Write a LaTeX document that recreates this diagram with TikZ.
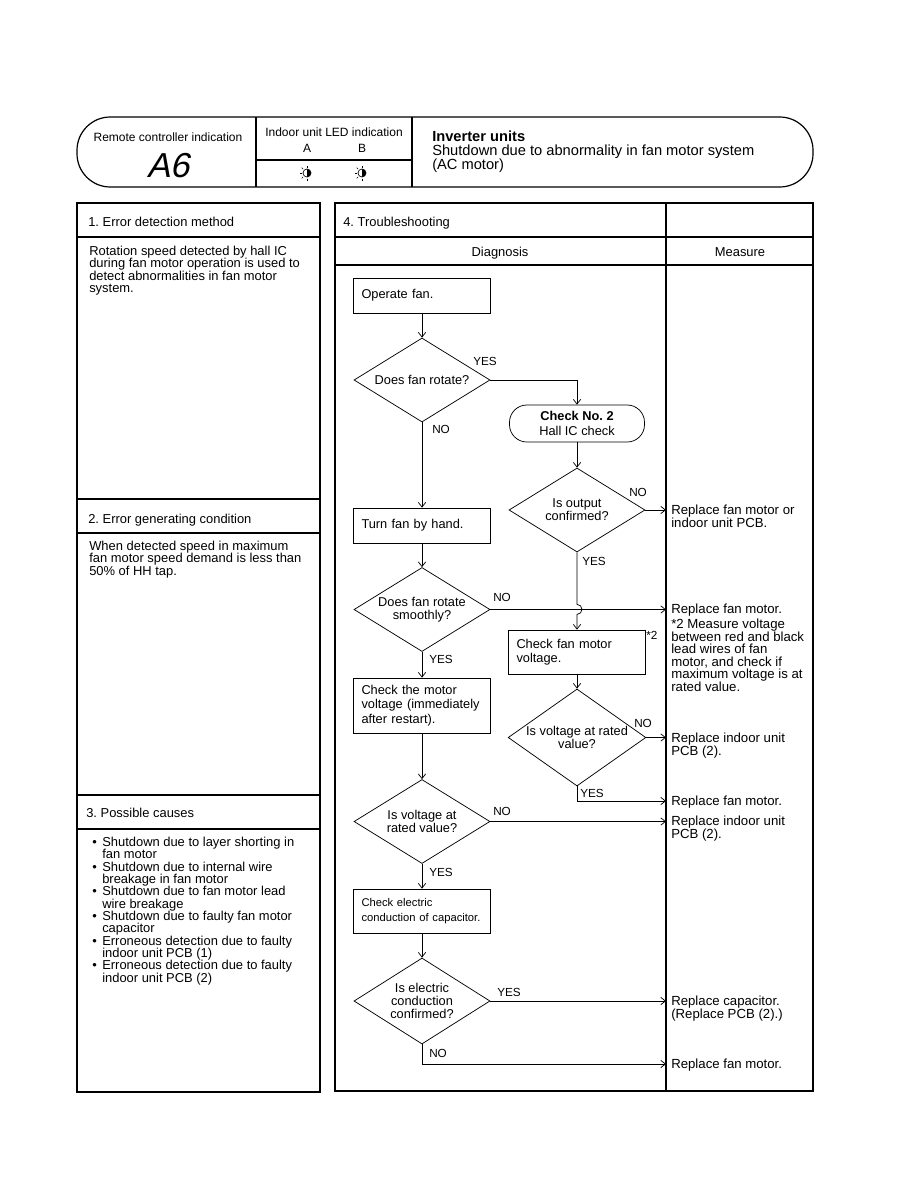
\documentclass[tikz,border=0pt]{standalone}
\usepackage{fontspec}
\setmainfont{Liberation Sans}
\newfontfamily\segfont[FakeSlant=0.22]{Liberation Sans}
\usetikzlibrary{arrows.meta,shapes.geometric}
\newcommand\bulmark{\makebox[7.5pt][l]{\textbullet}}
\newcommand\bulgap{\hspace*{7.5pt}}
\frenchspacing

\begin{document}
\begin{tikzpicture}[x=0.75pt,y=-0.75pt,
  frame/.style={line width=0.9pt},
  flow/.style={line width=0.55pt},
  arr/.style={flow,-{Straight Barb[length=3.5pt,width=5.5pt]}},
  box/.style={draw,flow,rectangle,inner xsep=6pt,inner ysep=0pt,text width=90.75pt,align=left,minimum height=26.25pt,font=\fontsize{9.6}{10.9}\selectfont},
  ask/.style={draw,flow,diamond,inner sep=0pt,aspect=1.6,minimum width=102pt,minimum height=63pt,align=center,font=\fontsize{9.6}{9.8}\selectfont},
  term/.style={draw,flow,rectangle,rounded corners=13pt,minimum width=101.25pt,minimum height=27.75pt,inner sep=0pt,align=center,font=\fontsize{9.6}{11.5}\selectfont},
  yn/.style={anchor=base west,inner sep=0pt,font=\fontsize{8.8}{10}\selectfont},
  head/.style={anchor=base west,inner sep=0pt,font=\fontsize{9.7}{9.25}\selectfont},
  body/.style={anchor=north west,inner sep=0pt,align=left,font=\fontsize{9.7}{9.25}\selectfont},
  meas/.style={anchor=north west,inner sep=0pt,align=left,font=\fontsize{9.9}{9.4}\selectfont},
  cell/.style={anchor=base,inner sep=0pt,font=\fontsize{9}{10}\selectfont},
  ledsym/.pic={
    \draw[line width=0.5pt] (0,0) circle (4);
    \fill (0,-4) arc[start angle=-90,end angle=90,radius=4] -- cycle;
    \foreach \a in {90,135,180,225,270} \draw[line width=0.45pt] (\a:5.5) -- (\a:7.5);
  }]
\useasboundingbox (0,0) rectangle (918,1188);

% header strip
\draw[frame,rounded corners=25pt] (77,117) rectangle (813,187);
\draw[frame] (256,117) -- (256,187) (412,117) -- (412,187) (256,160) -- (412,160);
\node[cell] (rc) at (168,141) {Remote controller indication};
\node[inner sep=0pt,font=\segfont\fontsize{26}{26}\selectfont] (code) at (168,166) {A6};
\node[cell] (led) at (334,136) {Indoor unit LED indication};
\node[cell] (la) at (307,152) {A};
\node[cell] (lb) at (362,152) {B};
\pic at (307,173) {ledsym};
\pic at (362,173) {ledsym};
\node[anchor=north west,inner sep=0pt,align=left,font=\fontsize{11}{10.5}\selectfont] (title) at (432,131) {\textbf{Inverter units}\\Shutdown due to abnormality in fan motor system\\(AC motor)};

% left panel
\draw[frame] (77,203) rectangle (320,1092);
\foreach \yy in {237,499,533,795,829} \draw[frame] (77,\yy) -- (320,\yy);
\node[head] (s1) at (88,226) {1. Error detection method};
\node[body] (d1) at (89,246) {Rotation speed detected by hall IC\\during fan motor operation is used to\\detect abnormalities in fan motor\\system.};
\node[head] (s2) at (88,523) {2. Error generating condition};
\node[body] (d2) at (89,541) {When detected speed in maximum\\fan motor speed demand is less than\\50\% of HH tap.};
\node[head] (s3) at (86,817) {3. Possible causes};
\node[body] (d3) at (92,837) {\bulmark Shutdown due to layer shorting in\\\bulgap fan motor\\\bulmark Shutdown due to internal wire\\\bulgap breakage in fan motor\\\bulmark Shutdown due to fan motor lead\\\bulgap wire breakage\\\bulmark Shutdown due to faulty fan motor\\\bulgap capacitor\\\bulmark Erroneous detection due to faulty\\\bulgap indoor unit PCB (1)\\\bulmark Erroneous detection due to faulty\\\bulgap indoor unit PCB (2)};

% right panel
\draw[frame] (335,203) rectangle (813,1091);
\draw[frame] (666,203) -- (666,1091);
\draw[frame] (335,237) -- (813,237) (335,265) -- (813,265);
\node[head] (s4) at (343,226) {4. Troubleshooting};
\node[head,anchor=base] (dg) at (500,256) {Diagnosis};
\node[head,anchor=base] (ms) at (740,256) {Measure};

% flow
\node[box] (op) at (422,295.5) {Operate fan.};
\node[ask] (q1) at (422,380) {Does fan rotate?};
\node[term] (chk) at (577,423.5) {\textbf{Check No. 2}\\Hall IC check};
\node[box] (turn) at (422,525.5) {Turn fan by hand.};
\node[ask] (q2) at (577,510) {Is output\\confirmed?};
\node[ask] (q3) at (422,609.5) {Does fan rotate\\smoothly?};
\node[box,minimum height=33pt] (vchk) at (577,652) {Check fan motor\\voltage.};
\node[box,minimum height=41.25pt] (mchk) at (422,705.5) {Check the motor\\voltage (immediately\\after restart).};
\node[ask,minimum height=72.75pt] (q4) at (577,737.5) {Is voltage at rated\\value?};
\node[ask] (q5) at (422,821.5) {Is voltage at\\rated value?};
\node[box,minimum height=33pt,font=\fontsize{8.4}{11}\selectfont] (cap) at (422,911) {Check electric\\conduction of capacitor.};
\node[ask,minimum height=64.5pt] (q6) at (422,1001) {Is electric\\conduction\\confirmed?};

\coordinate (e1) at (666,510);
\coordinate (e2) at (666,609.5);
\coordinate (e3) at (666,737.5);
\coordinate (e4) at (666,801);
\coordinate (e5) at (666,821.5);
\coordinate (e6) at (666,1001);
\coordinate (e7) at (666,1064);

\draw[arr] (op) -- (q1);
\draw[arr] (q1.east) -| (chk.north);
\draw[arr] (q1) -- (turn);
\draw[arr] (chk) -- (q2);
\draw[arr] (q2.east) -- (e1);
\draw[arr] (q2.south) -- ++(0,52) arc[start angle=-90,end angle=90,radius=5] -- (vchk.north);
\draw[arr] (turn) -- (q3);
\draw[arr] (q3.east) -- (e2);
\draw[arr] (q3) -- (mchk);
\draw[arr] (vchk) -- (q4);
\draw[arr] (q4.east) -- (e3);
\draw[arr] (q4.south) |- (e4);
\draw[arr] (mchk) -- (q5);
\draw[arr] (q5.east) -- (e5);
\draw[arr] (q5) -- (cap);
\draw[arr] (cap) -- (q6);
\draw[arr] (q6.east) -- (e6);
\draw[arr] (q6.south) |- (e7);

\node[yn] (y1) at (473,365) {YES};
\node[yn] (n1) at (432,433) {NO};
\node[yn] (n2) at (629,496) {NO};
\node[yn] (y2) at (582,565) {YES};
\node[yn] (n3) at (493,601) {NO};
\node[yn] (y3) at (429,663) {YES};
\node[yn] (n4) at (634,727) {NO};
\node[yn] (y4) at (580,797) {YES};
\node[yn] (n5) at (493,815) {NO};
\node[yn] (y5) at (429,876) {YES};
\node[yn] (y6) at (497,996) {YES};
\node[yn] (n6) at (429,1057) {NO};
\node[yn] (note) at (646,639) {*2};

% measures
\node[meas] (m1) at (671,505) {Replace fan motor or\\indoor unit PCB.};
\node[meas] (m2) at (671,604) {Replace fan motor.};
\node[meas] (m3) at (671,619) {*2 Measure voltage\\between red and black\\lead wires of fan\\motor, and check if\\maximum voltage is at\\rated value.};
\node[meas] (m4) at (671,733) {Replace indoor unit\\PCB (2).};
\node[meas] (m5) at (671,796) {Replace fan motor.};
\node[meas] (m6) at (671,816) {Replace indoor unit\\PCB (2).};
\node[meas] (m7) at (671,996) {Replace capacitor.\\(Replace PCB (2).)};
\node[meas] (m8) at (671,1059) {Replace fan motor.};
\end{tikzpicture}
\end{document}
